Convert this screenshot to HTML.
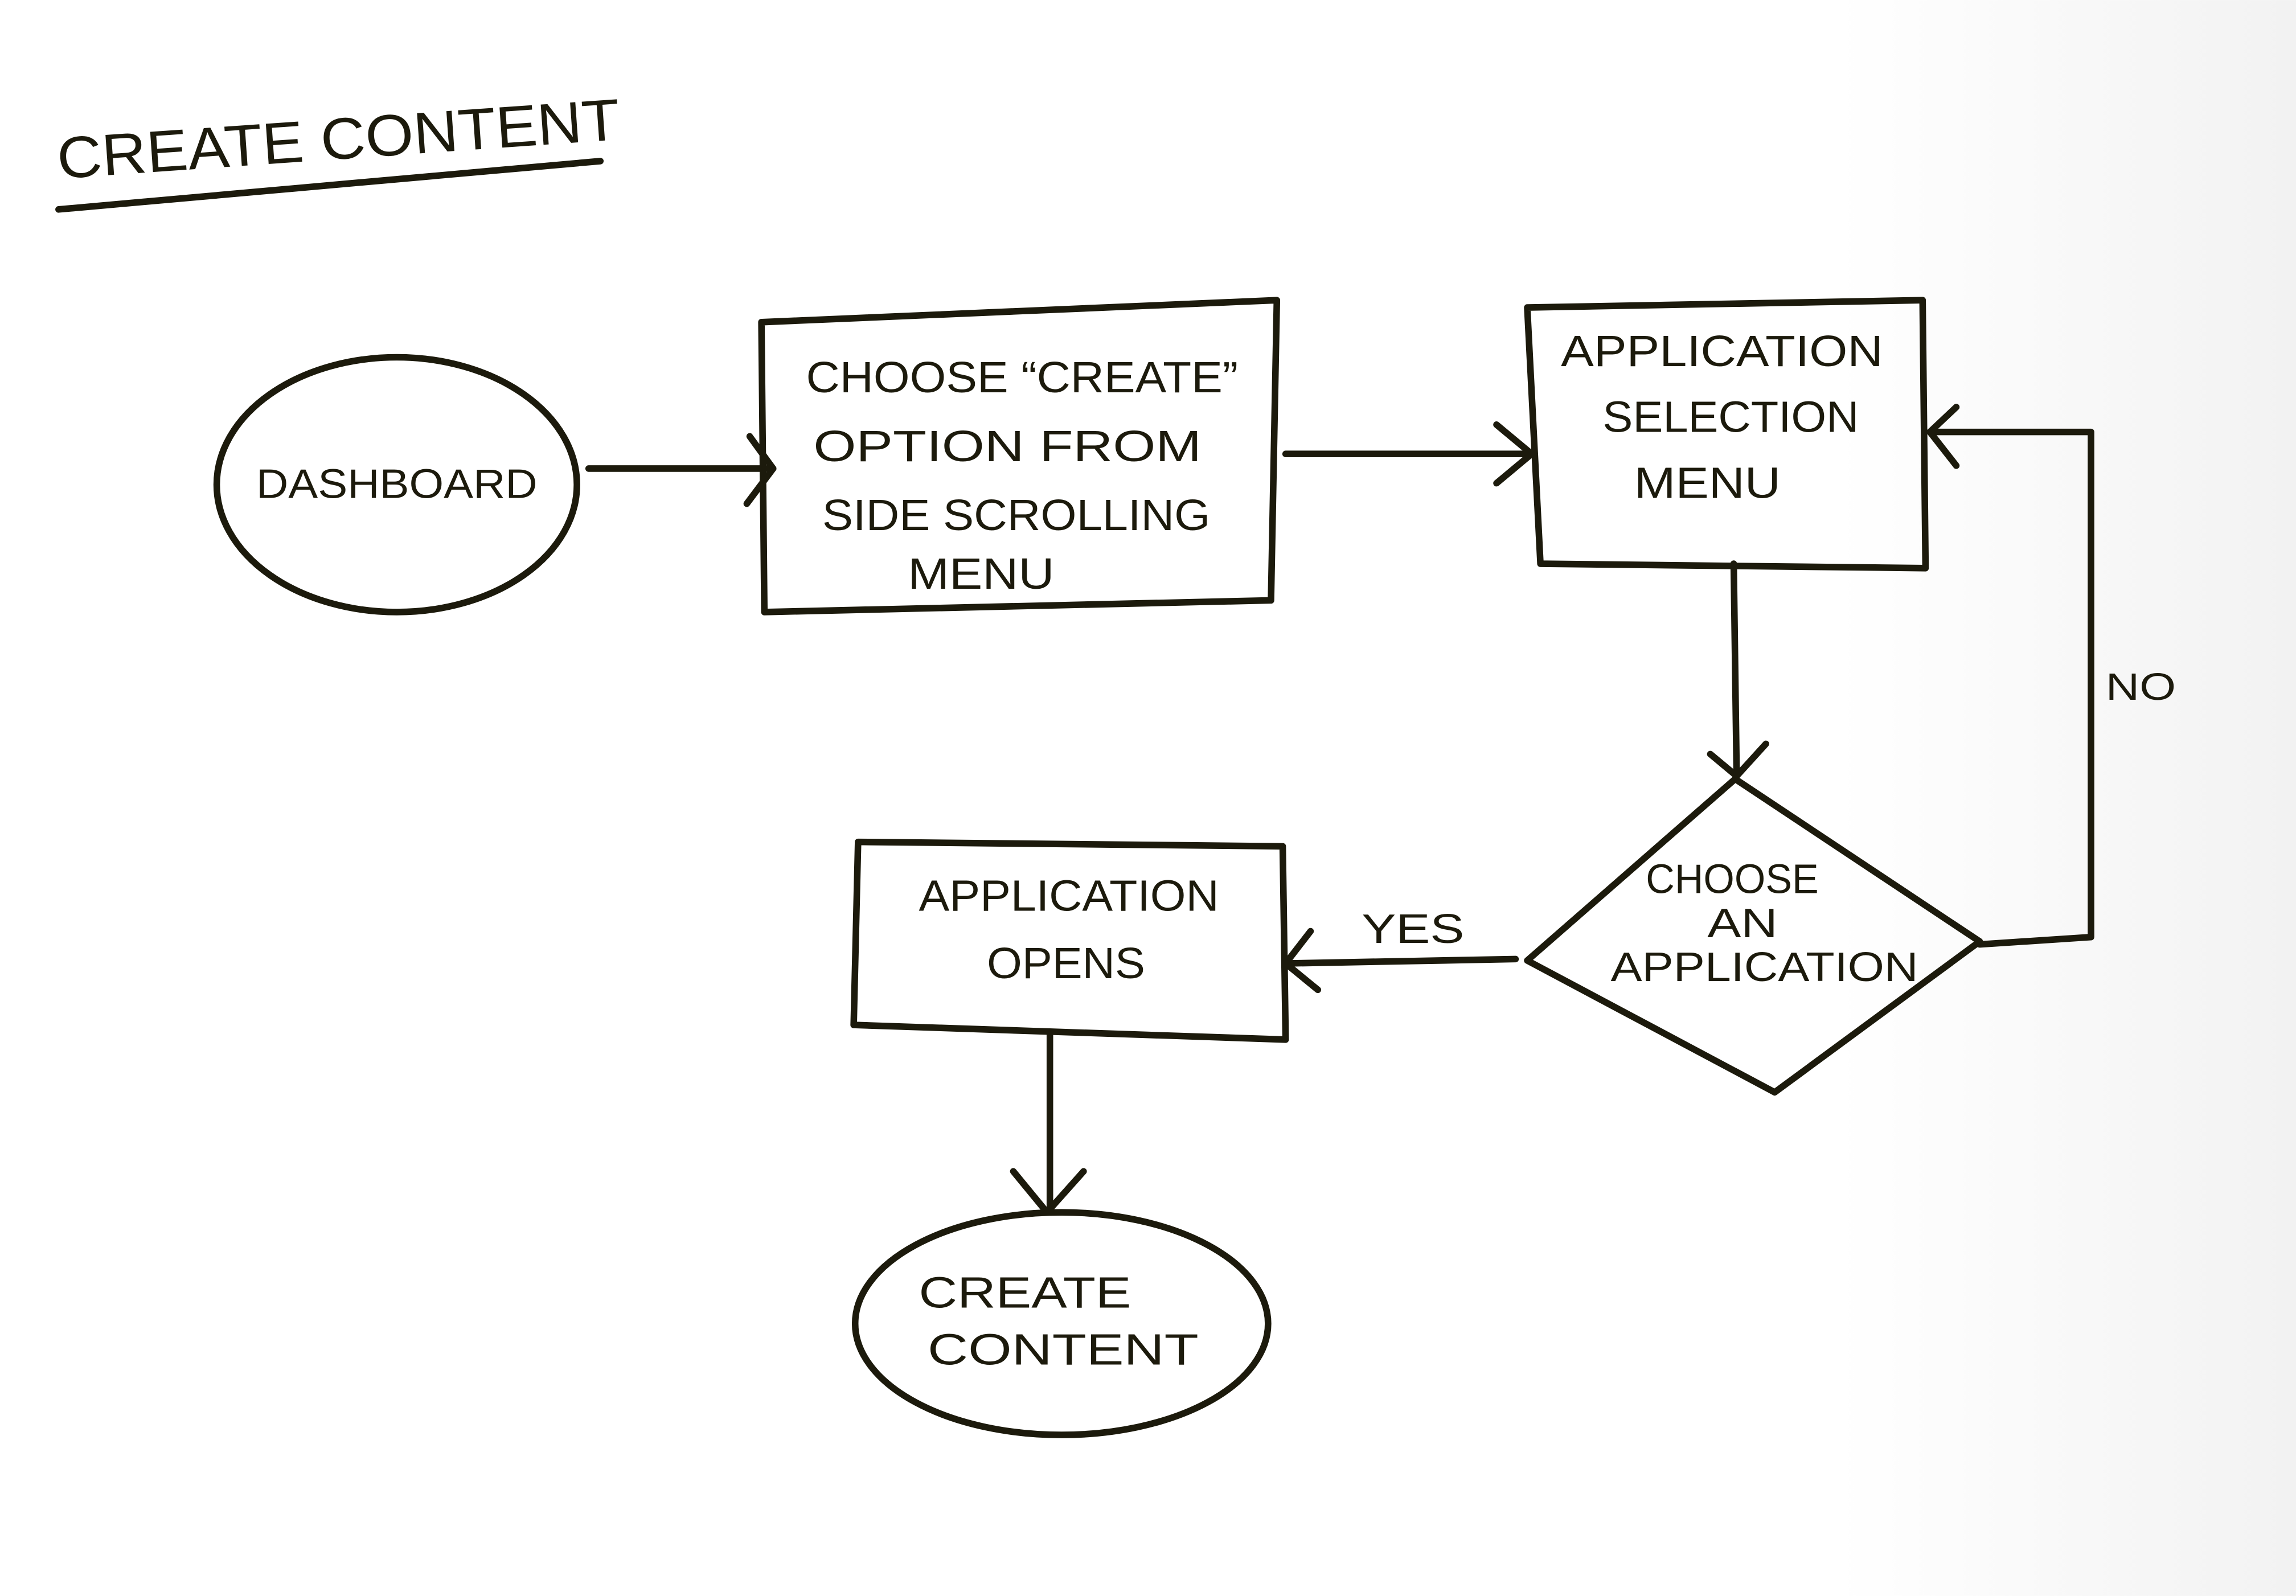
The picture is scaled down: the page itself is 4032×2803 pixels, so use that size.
<!DOCTYPE html>
<html><head><meta charset="utf-8"><style>
html,body{margin:0;padding:0;background:#fff;}
svg{display:block;}
text{font-family:"Liberation Sans",sans-serif;fill:#1c1a0c;}
</style></head><body>
<svg width="4032" height="2803" viewBox="0 0 1568 1090" xmlns="http://www.w3.org/2000/svg">
<defs><linearGradient id="bg" x1="0" x2="1"><stop offset="0.8" stop-color="#ffffff"/><stop offset="1" stop-color="#f2f2f2"/></linearGradient></defs>
<rect width="1568" height="1090" fill="url(#bg)"/>
<g stroke="#1c1a0c" stroke-width="4.5" fill="none" stroke-linecap="round" stroke-linejoin="round">
<line x1="40" y1="143" x2="410" y2="110"/>
<ellipse cx="271" cy="331" rx="123" ry="87"/>
<polyline points="402,320 528,320"/><polyline points="512,298 528,320 510,344"/>
<polygon points="520,220 872,205 868,410 522,418"/>
<polyline points="878,310 1046,310"/><polyline points="1022,290 1046,310 1022,330"/>
<polygon points="1043,210 1313,205 1315,388 1052,385"/>
<line x1="1184" y1="385" x2="1186" y2="530"/><polyline points="1168,515 1186,530 1206,508"/>
<polygon points="1185,532 1352,643 1212,746 1043,656"/>
<polyline points="1352,645 1428,640 1428,295 1318,295"/><polyline points="1336,278 1318,295 1336,318"/>
<polyline points="1035,655 878,658"/><polyline points="895,636 878,658 900,676"/>
<polygon points="586,575 876,578 878,710 583,700"/>
<line x1="717" y1="705" x2="717" y2="828"/><polyline points="692,800 715,828 740,800"/>
<ellipse cx="725" cy="904" rx="141" ry="76"/>
</g>
<text x="40" y="122" font-size="40" textLength="385" lengthAdjust="spacingAndGlyphs" transform="rotate(-4 40 122)">CREATE CONTENT</text>
<g font-size="30" text-anchor="middle">
<text x="271" y="340" font-size="28" textLength="192" lengthAdjust="spacingAndGlyphs">DASHBOARD</text>
<text x="698" y="268" textLength="295" lengthAdjust="spacingAndGlyphs">CHOOSE “CREATE”</text>
<text x="688" y="315" textLength="265" lengthAdjust="spacingAndGlyphs">OPTION FROM</text>
<text x="694" y="362" textLength="265" lengthAdjust="spacingAndGlyphs">SIDE SCROLLING</text>
<text x="670" y="402" textLength="100" lengthAdjust="spacingAndGlyphs">MENU</text>
<text x="1176" y="250" textLength="220" lengthAdjust="spacingAndGlyphs">APPLICATION</text>
<text x="1182" y="295" textLength="175" lengthAdjust="spacingAndGlyphs">SELECTION</text>
<text x="1166" y="340" textLength="100" lengthAdjust="spacingAndGlyphs">MENU</text>
<text x="1183" y="610" font-size="28" textLength="118" lengthAdjust="spacingAndGlyphs">CHOOSE</text>
<text x="1190" y="640" font-size="28" textLength="48" lengthAdjust="spacingAndGlyphs">AN</text>
<text x="1205" y="670" font-size="28" textLength="210" lengthAdjust="spacingAndGlyphs">APPLICATION</text>
<text x="1462" y="478" font-size="26" textLength="48" lengthAdjust="spacingAndGlyphs">NO</text>
<text x="965" y="644" font-size="28" textLength="70" lengthAdjust="spacingAndGlyphs">YES</text>
<text x="730" y="622" textLength="205" lengthAdjust="spacingAndGlyphs">APPLICATION</text>
<text x="728" y="668" textLength="108" lengthAdjust="spacingAndGlyphs">OPENS</text>
<text x="700" y="893" textLength="145" lengthAdjust="spacingAndGlyphs">CREATE</text>
<text x="726" y="932" textLength="185" lengthAdjust="spacingAndGlyphs">CONTENT</text>
</g>
</svg>
</body></html>
